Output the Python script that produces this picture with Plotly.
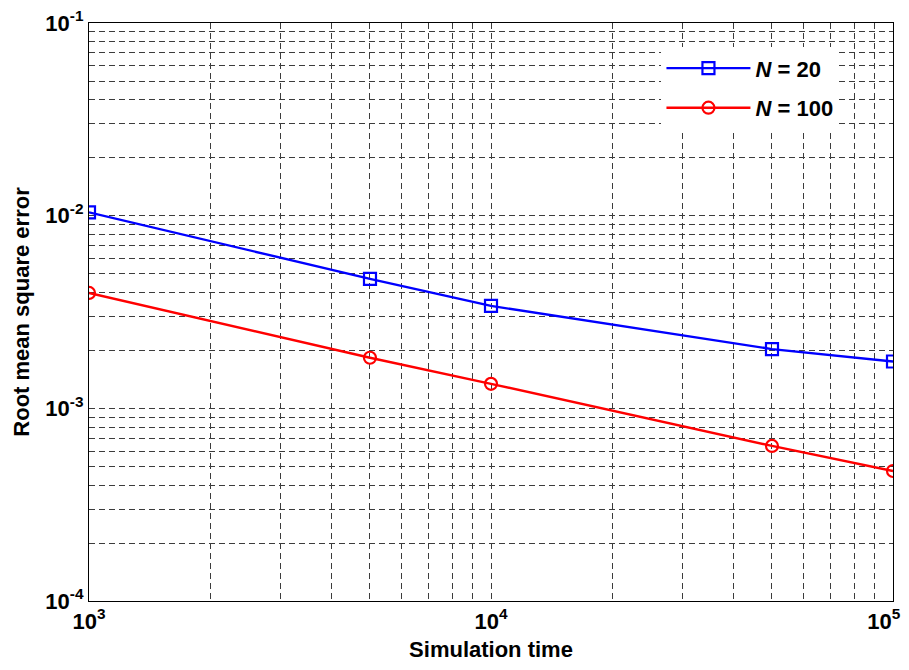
import plotly.graph_objects as go

sim_time = [1000, 5000, 10000, 50000, 100000]
rmse_n20 = [0.0104, 0.0047, 0.0034, 0.00203, 0.00175]
rmse_n100 = [0.00397, 0.00183, 0.00134, 0.000638, 0.000473]

x_tickvals = [1e3, 1e4, 1e5]
x_ticktext = ["<b>10<sup>3</sup></b>", "<b>10<sup>4</sup></b>",
              "<b>10<sup>5</sup>\u00a0\u00a0\u00a0</b>"]
y_tickvals = [1e-4, 1e-3, 1e-2, 1e-1]
y_ticktext = ["<b>10<sup>-4</sup></b>", "<b>10<sup>-3</sup></b>", "<b>10<sup>-2</sup></b>", "<b>10<sup>-1</sup></b>"]

FONT = "Liberation Sans, Arial, Helvetica, sans-serif"
GRID = "#3c3c3c"

fig = go.Figure()
fig.add_trace(go.Scatter(
    x=sim_time, y=rmse_n20, mode="lines+markers",
    name="<b><i>N</i> = 20</b>", legendgroup="a",
    line=dict(color="#0000ff", width=2.4),
    marker=dict(symbol="square-open", size=12, color="#0000ff", line=dict(width=2.2, color="#0000ff")),
))
fig.add_trace(go.Scatter(
    x=sim_time, y=rmse_n100, mode="lines+markers",
    name="<b><i>N</i> = 100</b>", legendgroup="b",
    line=dict(color="#ff0000", width=2.4),
    marker=dict(symbol="circle-open", size=12, color="#ff0000", line=dict(width=2.2, color="#ff0000")),
))

axis_common = dict(
    type="log", showline=True, linecolor="black", linewidth=1.3, mirror=True,
    showgrid=True, gridcolor=GRID, gridwidth=1, griddash="6px,4px",
    ticks="", zeroline=False, automargin=False, ticklabeloverflow="allow",
    tickfont=dict(family=FONT, size=22, color="black"),
    minor=dict(dtick="D1", showgrid=True, gridcolor=GRID, gridwidth=1, griddash="6px,4px", ticks=""),
)

fig.update_xaxes(
    **axis_common,
    range=[3, 5], tickvals=x_tickvals, ticktext=x_ticktext,
    title=dict(text="<b>Simulation time</b>", font=dict(family=FONT, size=22, color="black"), standoff=20),
)
fig.update_yaxes(
    **axis_common,
    range=[-4, -1], tickvals=y_tickvals, ticktext=y_ticktext,
    title=dict(text="<b>Root mean square error</b>", font=dict(family=FONT, size=22, color="black"), standoff=9),
)

# white backing behind the legend, hiding the grid as in the original
fig.add_shape(type="rect", xref="paper", yref="paper",
              x0=0.694, x1=0.990, y0=0.811, y1=0.958,
              fillcolor="white", line=dict(width=0), layer="between")

fig.update_layout(
    width=901, height=654,
    margin=dict(l=81, r=16, t=15, b=61),
    plot_bgcolor="white", paper_bgcolor="white",
    font=dict(family=FONT, color="black"),
    legend=dict(
        x=0.712, y=0.958, xanchor="left", yanchor="top",
        bgcolor="white", borderwidth=0,
        font=dict(family=FONT, size=22, color="black"),
        traceorder="grouped", tracegroupgap=8,
        itemwidth=84,
    ),
)

fig.write_html("out.html")
